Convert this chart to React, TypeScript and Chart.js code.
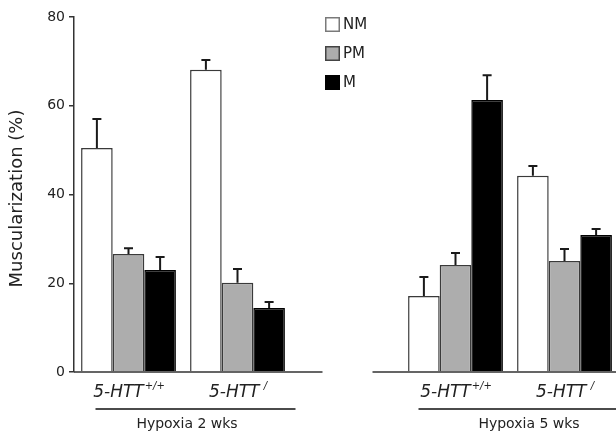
import React, { useEffect, useRef } from 'react';
import { Chart, registerables } from 'chart.js';
Chart.register(...registerables);

const categories = ['5-HTT+/+ (2 wks)', '5-HTT-/- (2 wks)', '', '5-HTT+/+ (5 wks)', '5-HTT-/- (5 wks)'];
const catMain = ['5-HTT', '5-HTT', '', '5-HTT', '5-HTT'];
const catSup = ['+/+', ' /', '', '+/+', ' /'];
const groupLabels = ['Hypoxia 2 wks', 'Hypoxia 5 wks'];
const seriesNames = ['NM', 'PM', 'M'];
const nmValues = [50.5, 68.1, null, 17.1, 44.2];
const pmValues = [26.6, 20.1, null, 24.1, 25.0];
const mValues = [23.0, 14.4, null, 61.3, 30.9];
const nmErr = [6.5, 2.2, null, 4.3, 2.2];
const pmErr = [1.3, 3.1, null, 2.7, 2.7];
const mErr = [2.9, 1.4, null, 5.6, 1.3];
const yTitle = 'Muscularization (%)';
const yMin = 0;
const yMax = 80;
const yStep = 20;

const fills = ['#ffffff', '#adadad', '#000000'];
const borders = ['#3a3a3a', '#3a3a3a', '#000000'];
const legendBorders = ['#7a7a7a', '#444444', '#000000'];
const FONT = '"DejaVu Sans", sans-serif';
const TEXT = '#222222';

const overlay = {
  id: 'overlay',
  afterDatasetsDraw(chart: any) {
    const ctx = chart.ctx;
    const { left, right, top, bottom } = chart.chartArea;
    const xs = chart.scales.x;
    const ys = chart.scales.y;
    const y0 = ys.getPixelForValue(0);
    ctx.save();

    // baseline segments
    const gapC = xs.getPixelForValue(2);
    ctx.strokeStyle = '#333';
    ctx.lineWidth = 1.5;
    ctx.beginPath();
    ctx.moveTo(left, y0);
    ctx.lineTo(gapC - 24, y0);
    ctx.moveTo(gapC + 26, y0);
    ctx.lineTo(right + 30, y0);
    ctx.stroke();

    // error bars
    const errs = [nmErr, pmErr, mErr];
    chart.data.datasets.forEach((ds: any, di: number) => {
      const meta = chart.getDatasetMeta(di);
      meta.data.forEach((bar: any, i: number) => {
        const v = ds.data[i];
        const e = errs[di][i];
        if (v == null || e == null) return;
        const yb = ys.getPixelForValue(v);
        const yt = ys.getPixelForValue(v + e);
        ctx.strokeStyle = '#1a1a1a';
        ctx.lineWidth = 2;
        ctx.beginPath();
        ctx.moveTo(bar.x, yb);
        ctx.lineTo(bar.x, yt);
        ctx.moveTo(bar.x - 4.5, yt);
        ctx.lineTo(bar.x + 4.5, yt);
        ctx.stroke();
      });
    });

    // category labels
    ctx.fillStyle = TEXT;
    ctx.textBaseline = 'alphabetic';
    ctx.textAlign = 'left';
    const mainFont = 'italic 17px ' + FONT;
    const supFont = 'italic 10px ' + FONT;
    catMain.forEach((m, i) => {
      if (!m) return;
      const cx = xs.getPixelForValue(i);
      ctx.font = mainFont;
      const wm = ctx.measureText(m).width;
      ctx.font = supFont;
      const wsup = ctx.measureText(catSup[i]).width;
      const sx = cx - (wm + wsup) / 2;
      ctx.font = mainFont;
      ctx.fillText(m, sx, y0 + 25);
      ctx.font = supFont;
      ctx.fillText(catSup[i], sx + wm + 1, y0 + 17);
    });

    // group lines and labels
    const g1a = xs.getPixelForValue(0);
    const g1b = xs.getPixelForValue(1);
    const g2a = xs.getPixelForValue(3);
    const g2b = xs.getPixelForValue(4);
    ctx.strokeStyle = '#111';
    ctx.lineWidth = 1.5;
    ctx.beginPath();
    ctx.moveTo(g1a - 33, y0 + 37);
    ctx.lineTo(g1b + 58, y0 + 37);
    ctx.moveTo(g2a - 37, y0 + 37);
    ctx.lineTo(right + 30, y0 + 37);
    ctx.stroke();
    ctx.font = '14px ' + FONT;
    ctx.textAlign = 'center';
    ctx.fillText(groupLabels[0], (g1a + g1b) / 2 + 4, y0 + 56);
    ctx.fillText(groupLabels[1], (g2a + g2b) / 2 + 19, y0 + 56);

    // y title
    ctx.save();
    ctx.translate(17, (top + bottom) / 2 + 4);
    ctx.rotate(-Math.PI / 2);
    ctx.font = '18px ' + FONT;
    ctx.textAlign = 'center';
    ctx.textBaseline = 'middle';
    ctx.fillText(yTitle, 0, 0);
    ctx.restore();

    // legend
    const lx = 325;
    const ly = 17;
    ctx.font = '15px ' + FONT;
    ctx.textAlign = 'left';
    ctx.textBaseline = 'middle';
    seriesNames.forEach((name, i) => {
      const by = ly + i * 29;
      ctx.fillStyle = fills[i];
      ctx.fillRect(lx, by, 15, 15);
      ctx.strokeStyle = legendBorders[i];
      ctx.lineWidth = 1.5;
      ctx.strokeRect(lx + 0.75, by + 0.75, 13.5, 13.5);
      ctx.fillStyle = TEXT;
      ctx.fillText(name, lx + 18, by + 8);
    });

    ctx.restore();
  },
};

export default function App() {
  const ref = useRef<HTMLCanvasElement | null>(null);
  useEffect(() => {
    if (!ref.current) return;
    const series = [nmValues, pmValues, mValues];
    const chart = new Chart(ref.current, {
      type: 'bar',
      data: {
        labels: categories,
        datasets: series.map((d, i) => ({
          label: seriesNames[i],
          data: d,
          backgroundColor: fills[i],
          borderColor: borders[i],
          borderWidth: 1.5,
          barPercentage: 1,
          categoryPercentage: 0.87,
        })),
      },
      options: {
        responsive: false,
        animation: false,
        devicePixelRatio: 1,
        layout: { padding: { top: 17, right: 21, bottom: 0, left: 0 } },
        plugins: { legend: { display: false }, tooltip: { enabled: false } },
        scales: {
          x: {
            type: 'category',
            grid: { display: false },
            border: { display: false },
            ticks: { display: false },
            afterFit: (s: any) => {
              s.height = 65;
            },
          },
          y: {
            min: yMin,
            max: yMax,
            ticks: {
              stepSize: yStep,
              color: TEXT,
              font: { family: FONT, size: 14 },
              padding: 4,
            },
            grid: {
              display: true,
              drawOnChartArea: false,
              drawTicks: true,
              tickLength: 5,
              color: '#333',
              lineWidth: 1.5,
            },
            border: { display: true, color: '#333', width: 1.5 },
            afterFit: (s: any) => {
              s.width = 74;
            },
          },
        },
      },
      plugins: [overlay],
    } as any);
    return () => chart.destroy();
  }, []);
  return (
    <div
      style={{
        position: 'fixed',
        left: 0,
        top: 0,
        width: 616,
        height: 437,
        overflow: 'hidden',
        background: '#fff',
      }}
    >
      <canvas ref={ref} width={640} height={437} style={{ display: 'block' }} />
    </div>
  );
}
